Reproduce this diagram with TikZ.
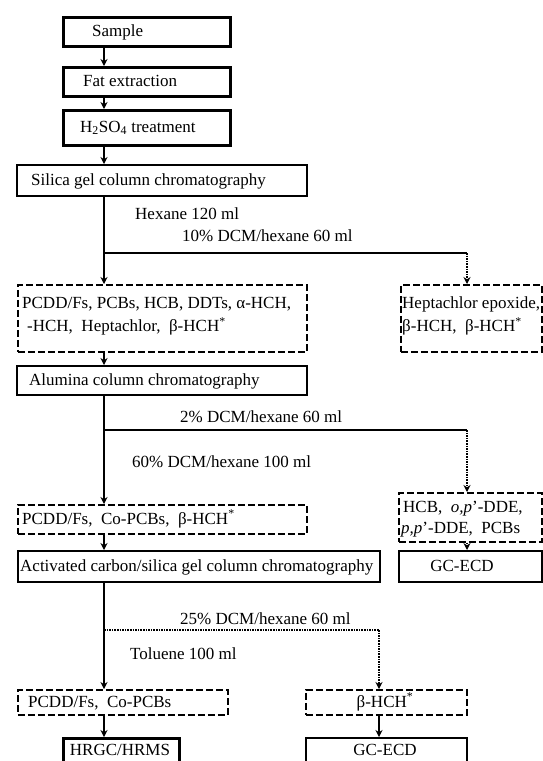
\documentclass[tikz,border=0pt]{standalone}
\usepackage{fontspec}
\setmainfont{Liberation Serif}
\usetikzlibrary{arrows.meta}
\begin{document}
\begin{tikzpicture}[x=1pt,y=-1pt,
  font=\fontsize{17}{20}\selectfont,
  thickbox/.style={draw, line width=2.6pt, inner sep=0pt, anchor=north west},
  midbox/.style={draw, line width=1.8pt, inner sep=0pt, anchor=north west},
  dashbox/.style={draw, line width=1.5pt, dash pattern=on 7pt off 3pt, inner sep=0pt, anchor=north west},
  txt/.style={inner sep=0pt, anchor=base west},
  ctxt/.style={inner sep=0pt, anchor=base},
  conn/.style={line width=2.2pt},
  arr/.style={line width=2.2pt, -{Stealth[length=7pt,width=7pt]}},
  dotarr/.style={line width=1.6pt, densely dotted, -{Stealth[length=7pt,width=7pt]}},
  dotline/.style={line width=1.6pt, densely dotted},
]
\clip (0,0) rectangle (543,761);
\fill[white] (0,0) rectangle (543,761);

% spine and right columns
\coordinate (sp) at (104,0);
\coordinate (rx) at (467,0);
\coordinate (mx) at (379,0);

% boxes
\node[thickbox, minimum width=167pt, minimum height=29pt] (sample) at (62,16) {};
\node[txt] (sample-t) at (92,36) {Sample};

\node[thickbox, minimum width=167pt, minimum height=29pt] (fat) at (62,66) {};
\node[txt] (fat-t) at (83,86) {Fat extraction};

\node[thickbox, minimum width=167pt, minimum height=35pt] (acid) at (62,109) {};
\node[txt] (acid-t) at (80,132) {H\textsubscript{2}SO\textsubscript{4} treatment};

\node[midbox, minimum width=290pt, minimum height=31pt] (silica) at (16,164) {};
\node[txt] (silica-t) at (31,185) {Silica gel column chromatography};

\node[txt] (hex-t) at (135,219.5) {Hexane 120 ml};
\node[txt] (dcm10-t) at (182,241.5) {10\% DCM/hexane 60 ml};

\node[dashbox, minimum width=289pt, minimum height=67pt] (pcdd1) at (17,284) {};
\node[txt] (pcdd1-t1) at (22,308.5) {PCDD/Fs, PCBs, HCB, DDTs, α-HCH,};
\node[txt] (pcdd1-t2) at (27,331.5) {-HCH,\ \ Heptachlor,\ \ β-HCH\textsuperscript{*}};

\node[dashbox, minimum width=141pt, minimum height=67pt] (hepta) at (400,284) {};
\node[txt] (hepta-t1) at (402,308.5) {Heptachlor epoxide,};
\node[txt] (hepta-t2) at (402,331.5) {β-HCH,\ \ β-HCH\textsuperscript{*}};

\node[midbox, minimum width=290pt, minimum height=29pt] (alumina) at (16,365) {};
\node[txt] (alumina-t) at (29,385) {Alumina column chromatography};

\node[txt] (dcm2-t) at (180,422.5) {2\% DCM/hexane 60 ml};
\node[txt] (dcm60-t) at (132,467.5) {60\% DCM/hexane 100 ml};

\node[dashbox, minimum width=289pt, minimum height=29pt] (pcdd2) at (17,504) {};
\node[txt] (pcdd2-t) at (22,524) {PCDD/Fs,\ \ Co-PCBs,\ \ β-HCH\textsuperscript{*}};

\node[dashbox, minimum width=143pt, minimum height=49pt] (hcb) at (398,492) {};
\node[txt] (hcb-t1) at (403,512) {HCB,\ \ \textit{o,p}'-DDE,};
\node[txt] (hcb-t2) at (401,533) {\textit{p,p}'-DDE,\ \ PCBs};

\node[midbox, minimum width=362pt, minimum height=31pt] (carbon) at (17,550) {};
\node[txt] (carbon-t) at (20,571) {Activated carbon/silica gel column chromatography};

\node[midbox, minimum width=143pt, minimum height=31pt] (gcecd1) at (398,550) {};
\node[ctxt] (gcecd1-t) at (462,571) {GC-ECD};

\node[txt] (dcm25-t) at (180,624.5) {25\% DCM/hexane 60 ml};
\node[txt] (tol-t) at (130,659.5) {Toluene 100 ml};

\node[dashbox, minimum width=210pt, minimum height=25pt] (pcdd3) at (17,689) {};
\node[txt] (pcdd3-t) at (28,707) {PCDD/Fs,\ \ Co-PCBs};

\node[dashbox, minimum width=161pt, minimum height=25pt] (beta) at (305,689) {};
\node[ctxt] (beta-t) at (385,707) {β-HCH\textsuperscript{*}};

\node[thickbox, minimum width=116pt, minimum height=34pt] (hrgc) at (62,737) {};
\node[ctxt] (hrgc-t) at (120,755) {HRGC/HRMS};

\node[midbox, minimum width=161pt, minimum height=34pt] (gcecd2) at (305,737) {};
\node[ctxt] (gcecd2-t) at (385,755) {GC-ECD};

% connectors
\draw[arr] (sample.south -| sp) -- (fat.north -| sp);
\draw[arr] (fat.south -| sp) -- (acid.north -| sp);
\draw[arr] (acid.south -| sp) -- (silica.north -| sp);
\draw[arr] (silica.south -| sp) -- (pcdd1.north -| sp);
\coordinate (b1) at (104,253);
\draw[conn] (b1) -- (b1 -| rx);
\draw[dotarr] (b1 -| rx) -- (hepta.north -| rx);

\draw[arr] (pcdd1.south -| sp) -- (alumina.north -| sp);
\draw[arr] (alumina.south -| sp) -- (pcdd2.north -| sp);
\coordinate (b2) at (104,430);
\draw[conn] (b2) -- (b2 -| rx);
\draw[dotarr] (b2 -| rx) -- (hcb.north -| rx);
\draw[dotarr] (hcb.south -| rx) -- (gcecd1.north -| rx);

\draw[arr] (pcdd2.south -| sp) -- (carbon.north -| sp);
\draw[arr] (carbon.south -| sp) -- (pcdd3.north -| sp);
\coordinate (b3) at (104,630);
\draw[dotline] (b3) -- (b3 -| mx);
\draw[dotarr] (b3 -| mx) -- (beta.north -| mx);

\draw[arr] (pcdd3.south -| sp) -- (hrgc.north -| sp);
\draw[arr] (beta.south -| mx) -- (gcecd2.north -| mx);
\end{tikzpicture}
\end{document}
